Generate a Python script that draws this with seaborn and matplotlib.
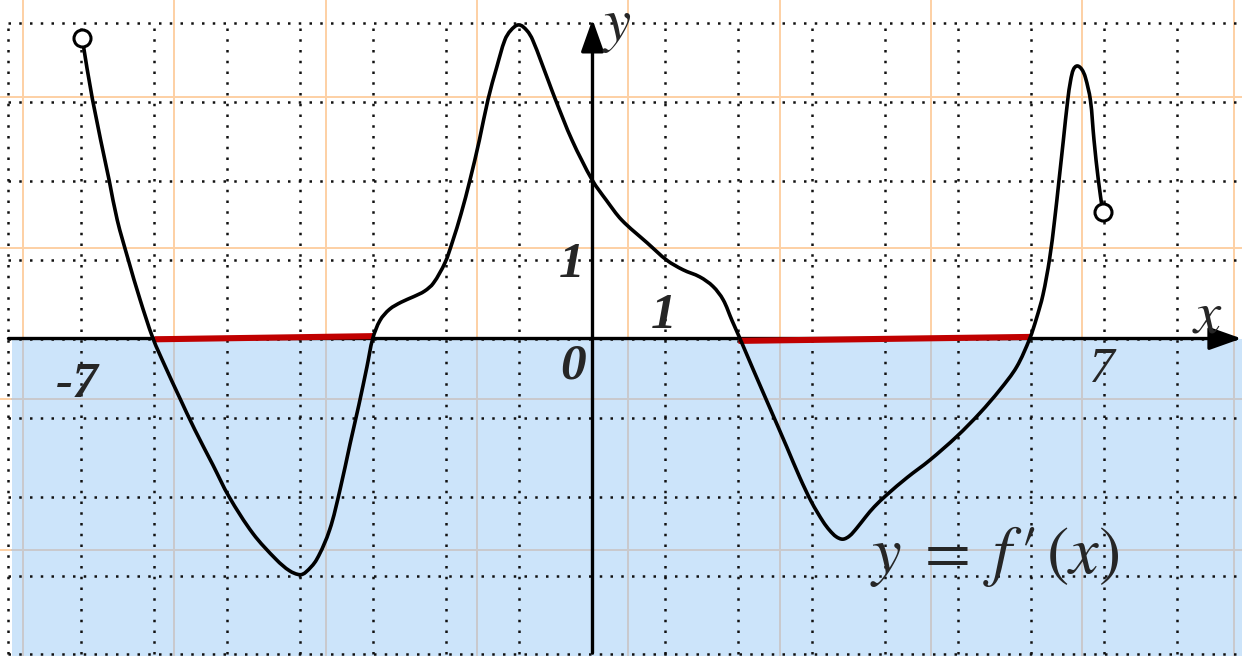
import numpy as np
import pandas as pd
import matplotlib
matplotlib.use("Agg")
import matplotlib.pyplot as plt
import seaborn as sns
from matplotlib.patches import Rectangle, PathPatch
from matplotlib.path import Path

# ---- data ----
curve_x = [-6.99, -6.85, -6.62, -6.51, -6.36, -6.20, -6.02,
           -5.85, -5.66, -5.45, -5.20, -4.98, -4.65, -4.33, -4.15, -4.01,
           -3.93, -3.78, -3.60, -3.46, -3.32, -3.20, -3.09, -3.01,
           -2.91, -2.78, -2.62, -2.45, -2.30, -2.18, -2.02, -1.92, -1.80,
           -1.68, -1.55, -1.43, -1.31, -1.20, -1.12, -1.01, -0.90, -0.82, -0.60,
           -0.51, -0.28, 0.00, 0.19, 0.40, 0.75, 1.02, 1.24, 1.47, 1.65,
           1.79, 1.91, 2.02,
           2.20, 2.43, 2.66, 2.84, 3.00, 3.16, 3.25, 3.34, 3.43, 3.52, 3.62,
           3.74, 3.86, 4.03, 4.31, 4.62, 4.99, 5.31, 5.58, 5.81, 5.99,
           6.08, 6.17, 6.26, 6.33, 6.39, 6.45, 6.51, 6.55, 6.59, 6.64, 6.70,
           6.75, 6.82, 6.87, 6.93, 6.99]
curve_y = [3.80, 3.03, 2.00, 1.50, 1.00, 0.50, 0.00,
           -0.36, -0.74, -1.15, -1.60, -2.00, -2.47, -2.80, -2.94, -2.99,
           -2.96, -2.80, -2.42, -1.92, -1.33, -0.84, -0.36, 0.00,
           0.23, 0.37, 0.46, 0.53, 0.60, 0.70, 0.96, 1.22, 1.58,
           2.00, 2.51, 3.03, 3.44, 3.78, 3.90, 3.97, 3.90, 3.78, 3.25,
           3.03, 2.51, 2.00, 1.75, 1.50, 1.21, 0.99, 0.87, 0.78, 0.66,
           0.49, 0.23, 0.00,
           -0.39, -0.88, -1.37, -1.76, -2.07, -2.32, -2.43, -2.51, -2.54, -2.50, -2.40,
           -2.26, -2.13, -1.98, -1.76, -1.54, -1.24, -0.94, -0.65, -0.36, 0.00,
           0.25, 0.55, 1.00, 1.50, 2.00, 2.51, 3.02, 3.27, 3.41, 3.45, 3.41,
           3.31, 3.02, 2.51, 2.00, 1.60]

open_x = [-6.99, 6.99]
open_y = [3.80, 1.60]

red1_x = [-6.0, -3.0]
red1_y = [-0.01, 0.03]
red2_x = [2.0, 6.0]
red2_y = [-0.03, 0.02]

grid_x = list(range(-8, 9))
grid_y = list(range(-4, 5))

tick_labels = ["-7", "1", "0", "1"]
tick_pos = [(-7.05, -0.74), (-0.28, 0.78), (-0.27, -0.50), (0.98, 0.13)]
plain_label = "7"
formula = r"$y\;=\;f\,\prime\,(x)$"

# ---- figure ----
sns.set_style("white")
plt.rcParams["mathtext.fontset"] = "stix"
plt.rcParams["font.family"] = ["Liberation Serif", "DejaVu Serif"]

fig = plt.figure(figsize=(12.42, 6.56), dpi=100)
ax = fig.add_axes([0, 0, 1, 1])
ax.set_xlim(-8.116, 8.897)
ax.set_ylim(-4.019, 4.285)
ax.axis("off")

# background paper grid (orange), offset from the coordinate grid
orange = "#fdd0a4"
bg_vx = -7.80 + 2.073 * np.arange(9)
bg_hy = 3.057 - 1.911 * np.arange(4)
for vx in bg_vx:
    ax.axvline(vx, color=orange, lw=1.4, zorder=0)
for hy in bg_hy:
    ax.axhline(hy, color=orange, lw=1.4, zorder=0)

# blue half plane y < 0
ax.add_patch(Rectangle((-7.95, -4.2), 17.5, 4.2, facecolor="#cce4fa",
                       edgecolor="none", zorder=1))
gray = "#c9c9cc"
for vx in bg_vx:
    if vx > -7.95:
        ax.plot([vx, vx], [-4.2, 0], color=gray, lw=1.4, zorder=1.5)
for hy in bg_hy:
    if hy < 0:
        ax.plot([-7.95, 9.5], [hy, hy], color=gray, lw=1.4, zorder=1.5)

# dotted coordinate grid
dots = (0, (1, 3.3))
ax.vlines(grid_x, -4.0, 4.0, colors="#111111", linestyles=[dots], lw=1.8,
          zorder=2)
ax.hlines(grid_y, -8.0, 9.0, colors="#111111", linestyles=[dots], lw=1.8,
          zorder=2)

# axes with arrows
arrow_kw = dict(arrowstyle="-|>,head_length=0.9,head_width=0.32", lw=2.4,
                color="black", shrinkA=0, shrinkB=0, mutation_scale=22)
ax.annotate("", xy=(8.89, 0), xytext=(-8.0, 0), arrowprops=arrow_kw,
            zorder=3)
ax.annotate("", xy=(0, 4.04), xytext=(0, -3.98), arrowprops=arrow_kw,
            zorder=3)

# red segments on the x axis
for rx, ry in ((red1_x, red1_y), (red2_x, red2_y)):
    sns.lineplot(x=rx, y=ry, ax=ax, color="#c00000", linewidth=4.4, zorder=4,
                 sort=False, estimator=None, solid_capstyle="butt")

# curve: smooth cubic path through the read points (in data coordinates)
sx, sy = 73.0, 79.0  # pixel size of one unit, to get isotropic tangents
P = np.column_stack([np.asarray(curve_x) * sx, np.asarray(curve_y) * sy])
T = np.zeros_like(P)
T[1:-1] = P[2:] - P[:-2]
T[0] = P[1] - P[0]
T[-1] = P[-1] - P[-2]
T /= np.linalg.norm(T, axis=1)[:, None]
verts = [P[0]]
codes = [Path.MOVETO]
for i in range(len(P) - 1):
    d = np.linalg.norm(P[i + 1] - P[i])
    verts += [P[i] + T[i] * d / 3, P[i + 1] - T[i + 1] * d / 3, P[i + 1]]
    codes += [Path.CURVE4] * 3
verts = np.array(verts) / [sx, sy]
ax.add_patch(PathPatch(Path(verts, codes), fill=False, edgecolor="black",
                       lw=2.6, joinstyle="round", capstyle="round", zorder=5))

sns.scatterplot(x=open_x, y=open_y, ax=ax, s=150, facecolor="white",
                edgecolor="black", linewidth=2.2, zorder=6)

# labels
for lab, (lx, ly) in zip(tick_labels, tick_pos):
    ax.text(lx, ly, lab, fontsize=37, fontweight="bold", fontstyle="italic",
            ha="center", va="baseline", zorder=7)
ax.text(6.98, -0.55, plain_label, fontsize=37, fontstyle="italic",
        ha="center", va="baseline", zorder=7)
ax.text(8.43, 0.07, r"$x$", fontsize=44, ha="center", va="baseline",
        zorder=7)
ax.text(0.33, 3.78, r"$y$", fontsize=44, ha="center", va="baseline",
        zorder=7)
ax.text(5.51, -2.97, formula, fontsize=48, ha="center", va="baseline",
        zorder=7)

fig.savefig("out.png", dpi=100)
